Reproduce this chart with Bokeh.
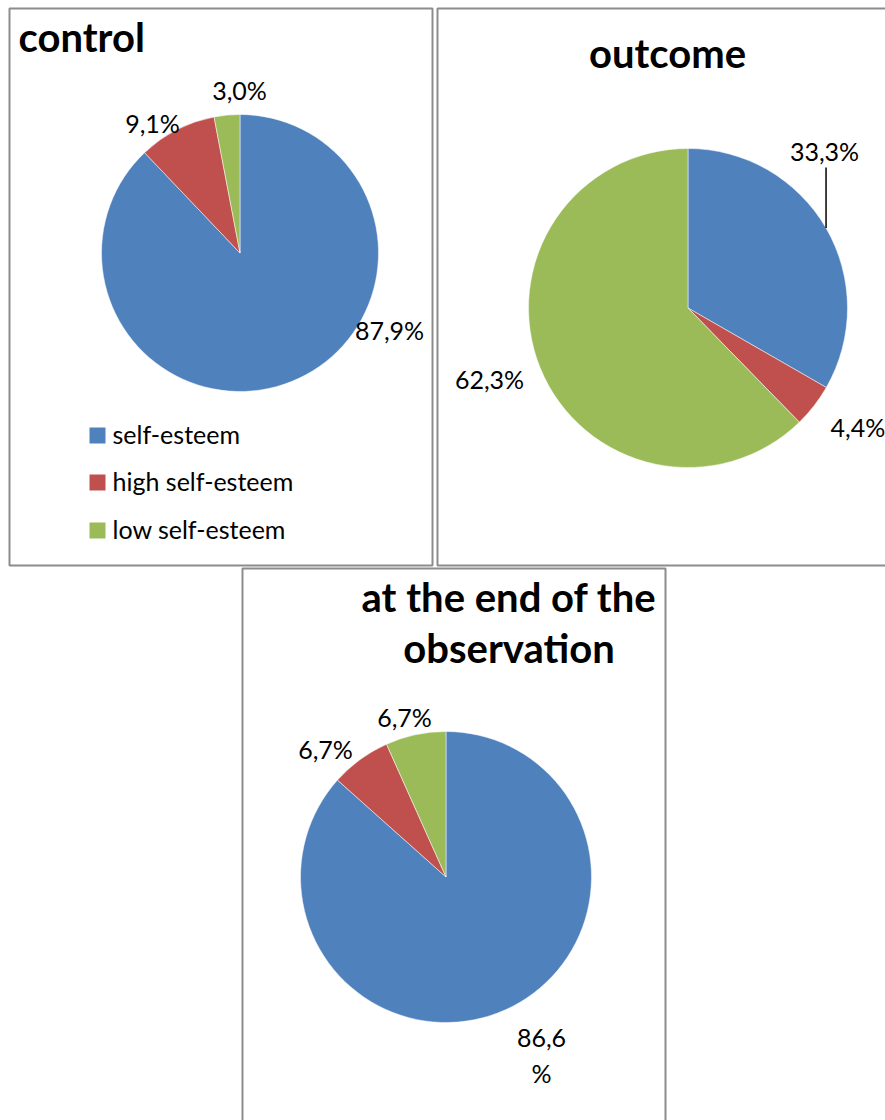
import math

from bokeh.core.properties import value
from bokeh.embed import file_html
from bokeh.models import ColumnDataSource, Range1d
from bokeh.plotting import figure
from bokeh.resources import INLINE

# ---- data -------------------------------------------------------------
categories = ["self-esteem", "high self-esteem", "low self-esteem"]
colors = ["#4F81BD", "#C0504D", "#9BBB59"]

control_values = [87.9, 9.1, 3.0]
outcome_values = [33.3, 4.4, 62.3]
end_values = [86.6, 6.7, 6.7]

titles = ["control", "outcome", "at the end of the\nobservation"]

# ---- layout (page pixels, y measured from the top) ----------------------
W, H = 885, 1120
FONT = "Lato"
GREY = "#8C8C8C"
LABEL_SIZE = 25
TITLE_SIZE = 40
LEGEND_SIZE = 25


def Y(y):
    return H - y


def base(y, size):
    # place the glyph baseline at page row y
    return Y(y - 0.4 * size)


p = figure(width=W, height=H, output_backend="svg", toolbar_location=None,
           x_range=Range1d(0, W), y_range=Range1d(0, H),
           x_axis_location=None, y_axis_location=None,
           min_border=0, outline_line_color=None)
p.grid.visible = False
p.background_fill_color = "white"
p.border_fill_color = "white"

# panel frames
frames = dict(left=[9, 437, 242], right=[432, 892, 665],
              top=[8, 8, 568], bottom=[565, 565, 1128])
p.quad(left=frames["left"], right=frames["right"],
       top=[Y(t) for t in frames["top"]], bottom=[Y(b) for b in frames["bottom"]],
       fill_color=None, line_color=GREY, line_width=2)


def fmt(v):
    return f"{v:.1f}".replace(".", ",") + "%"


def pie(vals, cx, cy, r):
    total = sum(vals)
    starts, ends, mids = [], [], []
    a = math.pi / 2
    for v in vals:
        sweep = 2 * math.pi * v / total
        starts.append(a - sweep)
        ends.append(a)
        mids.append(a - sweep / 2)
        a -= sweep
    src = ColumnDataSource(dict(start=starts, end=ends, color=colors, cat=categories))
    p.wedge(x=cx, y=Y(cy), radius=r, start_angle="start", end_angle="end",
            fill_color="color", line_color="white", line_width=0.5, source=src)
    return mids


def labels(texts, xs, ys, align="center"):
    p.text(x=xs, y=[base(y, LABEL_SIZE) for y in ys], text=texts,
           text_font=value(FONT), text_font_size=f"{LABEL_SIZE}px",
           text_color="black", text_align=align, text_baseline="alphabetic")


# control
pie(control_values, 239.5, 252.5, 138.5)
labels([fmt(v) for v in control_values], [389, 152, 239], [339, 132, 99])

# outcome
mids = pie(outcome_values, 687.5, 307.5, 159.5)
lx = 687.5 + 159.5 * math.cos(mids[0])
ly = 307.5 - 159.5 * math.sin(mids[0])
p.segment(x0=[lx], y0=[Y(ly)], x1=[lx], y1=[Y(167)], line_color="black", line_width=1.5)
labels([fmt(outcome_values[0]), fmt(outcome_values[2])], [824, 489], [160, 388])
labels([fmt(outcome_values[1])], [830], [436], align="left")

# end of observation (the large label wraps before its percent sign)
pie(end_values, 445.5, 876.5, 145.5)
labels([fmt(end_values[1]), fmt(end_values[2])], [325, 404], [758, 726])
big = fmt(end_values[0])
labels([big[:-1], big[-1:]], [541, 541], [1047, 1082])

# titles
t1, t2 = titles[2].split("\n")
p.text(x=[18], y=[base(52, TITLE_SIZE)], text=[titles[0]], text_font=value(FONT),
       text_font_style="bold", text_font_size=f"{TITLE_SIZE}px", text_align="left",
       text_baseline="alphabetic")
p.text(x=[667, 508.5, 508.5],
       y=[base(68, TITLE_SIZE), base(612, TITLE_SIZE), base(663, TITLE_SIZE)],
       text=[titles[1], t1, t2], text_font=value(FONT),
       text_font_style="bold", text_font_size=f"{TITLE_SIZE}px", text_align="center",
       text_baseline="alphabetic")

# legend
leg_y = [435, 482, 530]
p.rect(x=[97] * 3, y=[Y(y) for y in leg_y], width=16, height=16,
       fill_color=colors, line_color=None)
p.text(x=[112] * 3, y=[base(y + 8, LEGEND_SIZE) for y in leg_y], text=categories,
       text_font=value(FONT), text_font_size=f"{LEGEND_SIZE}px", text_color="black",
       text_align="left", text_baseline="alphabetic")

open("out.html", "w").write(file_html(p, INLINE))
